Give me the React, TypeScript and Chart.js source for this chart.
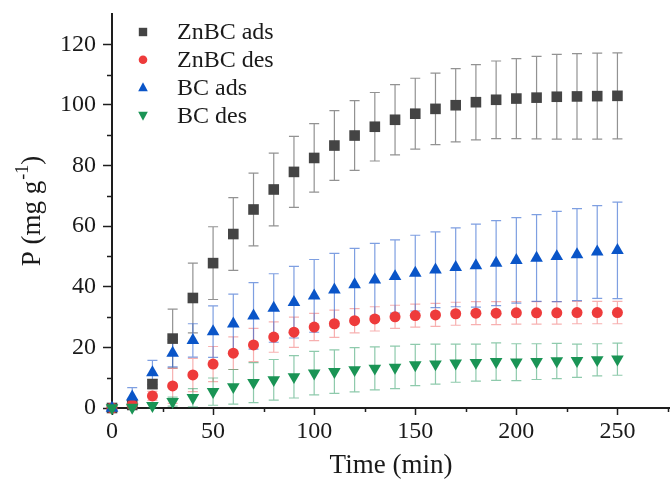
import React, { useEffect, useRef } from 'react';
import { Chart, registerables } from 'chart.js';

Chart.register(...registerables);

// ---- data ----
const times = [0, 10, 20, 30, 40, 50, 60, 70, 80, 90, 100, 110, 120, 130, 140, 150, 160, 170, 180, 190, 200, 210, 220, 230, 240, 250];

const znbcAds = [0, 1.0, 7.9, 22.9, 36.3, 47.8, 57.4, 65.5, 72.1, 77.9, 82.5, 86.6, 89.9, 92.8, 95.1, 97.1, 98.7, 99.9, 100.9, 101.7, 102.1, 102.4, 102.7, 102.8, 102.9, 103.0];
const znbcAdsErr = [0, 0.5, 1.5, 9.7, 11.5, 12.0, 12.0, 12.0, 12.0, 11.7, 11.3, 11.5, 11.5, 11.3, 11.6, 11.7, 11.8, 12.1, 12.4, 12.8, 13.2, 13.6, 14.0, 14.1, 14.2, 14.2];

const znbcDes = [0, 1.0, 4.0, 7.3, 10.9, 14.5, 18.1, 20.8, 23.4, 25.0, 26.7, 27.8, 28.8, 29.4, 30.1, 30.5, 30.7, 31.1, 31.3, 31.3, 31.4, 31.4, 31.4, 31.5, 31.5, 31.5];
const znbcDesErr = [0, 0.5, 1.5, 5.8, 5.5, 5.8, 5.4, 5.5, 5.0, 5.0, 4.5, 4.5, 4.0, 4.0, 3.8, 3.8, 3.8, 3.8, 3.8, 3.8, 3.7, 3.7, 3.7, 3.7, 3.7, 3.7];

const bcAds = [0, 3.7, 11.7, 18.1, 22.3, 25.2, 27.8, 30.4, 33.0, 34.9, 37.0, 39.0, 40.7, 42.3, 43.4, 44.5, 45.6, 46.4, 47.0, 47.8, 48.7, 49.5, 50.0, 50.6, 51.5, 52.0];
const bcAdsErr = [0, 3.0, 4.0, 4.5, 5.5, 8.5, 9.8, 11.0, 11.3, 11.8, 12.0, 12.0, 12.0, 12.0, 12.1, 12.5, 12.5, 13.0, 13.7, 14.0, 14.1, 14.3, 14.9, 15.2, 15.3, 15.9];

const bcDes = [0, 0.2, 0.8, 2.1, 3.4, 5.4, 7.0, 8.4, 9.3, 10.3, 11.5, 12.0, 12.6, 13.1, 13.4, 14.2, 14.5, 14.8, 15.0, 15.3, 15.1, 15.3, 15.5, 15.6, 15.9, 16.1];
const bcDesErr = [0, 0.3, 0.8, 1.5, 3.0, 4.5, 5.7, 6.6, 6.7, 7.0, 7.2, 7.2, 7.3, 7.1, 7.0, 6.8, 6.6, 6.3, 6.1, 6.2, 6.1, 5.9, 5.8, 5.5, 5.3, 5.3];

const seriesNames = ['ZnBC ads', 'ZnBC des', 'BC ads', 'BC des'];
const xTicks = [0, 50, 100, 150, 200, 250];
const xMinorTicks = [25, 75, 125, 175, 225, 275];
const yTicks = [0, 20, 40, 60, 80, 100, 120];
const yMinorTicks = [10, 30, 50, 70, 90, 110];
const xTitle = 'Time (min)';
const yTitleMain = 'P (mg g';
const yTitleSup = '-1';
const yTitleEnd = ')';

// ---- styles ----
const FONT = "'Liberation Serif', 'Times New Roman', Times, serif";
const AXIS = '#1e1e1e';
const markerColors = ['#444444', '#EE3B3B', '#0A55C8', '#1A9455'];
const errColors = ['rgba(110,110,110,0.75)', 'rgba(238,80,80,0.45)', 'rgba(40,95,205,0.6)', 'rgba(30,150,90,0.5)'];
const values = [znbcAds, znbcDes, bcAds, bcDes];
const errors = [znbcAdsErr, znbcDesErr, bcAdsErr, bcDesErr];
const pointStyles = ['rect', 'circle', 'triangle', 'triangle'];
const rotations = [0, 0, 0, 180];
const radii = [7.5, 5.5, 7.3, 7.3];

function drawMarker(ctx: CanvasRenderingContext2D, style: number, x: number, y: number, s: number) {
  ctx.beginPath();
  if (style === 0) {
    ctx.rect(x - s, y - s, 2 * s, 2 * s);
  } else if (style === 1) {
    ctx.arc(x, y, s, 0, Math.PI * 2);
  } else if (style === 2) {
    ctx.moveTo(x, y - s * 1.1);
    ctx.lineTo(x + s, y + s * 0.75);
    ctx.lineTo(x - s, y + s * 0.75);
    ctx.closePath();
  } else {
    ctx.moveTo(x, y + s * 1.1);
    ctx.lineTo(x + s, y - s * 0.75);
    ctx.lineTo(x - s, y - s * 0.75);
    ctx.closePath();
  }
  ctx.fill();
}

const errorBarPlugin = {
  id: 'errorBars',
  beforeDatasetsDraw(chart: any) {
    const { ctx, scales } = chart;
    const xs = scales.x;
    const ys = scales.y;
    ctx.save();
    ctx.lineWidth = 1.2;
    for (let s = 0; s < values.length; s++) {
      ctx.strokeStyle = errColors[s];
      for (let i = 0; i < times.length; i++) {
        const e = errors[s][i];
        if (!e) continue;
        const px = xs.getPixelForValue(times[i]);
        const top = ys.getPixelForValue(values[s][i] + e);
        const bot = ys.getPixelForValue(Math.max(values[s][i] - e, -1));
        ctx.beginPath();
        ctx.moveTo(px, top);
        ctx.lineTo(px, bot);
        ctx.moveTo(px - 5, top);
        ctx.lineTo(px + 5, top);
        ctx.moveTo(px - 5, bot);
        ctx.lineTo(px + 5, bot);
        ctx.stroke();
      }
    }
    ctx.restore();
  },
};

const decorPlugin = {
  id: 'decor',
  afterDraw(chart: any) {
    const { ctx, chartArea, scales } = chart;
    const xs = scales.x;
    const ys = scales.y;
    ctx.save();
    // minor ticks
    ctx.strokeStyle = AXIS;
    ctx.lineWidth = 1.5;
    ctx.beginPath();
    for (const v of xMinorTicks) {
      const px = Math.round(xs.getPixelForValue(v)) + 0.5;
      ctx.moveTo(px, chartArea.bottom);
      ctx.lineTo(px, chartArea.bottom + 4);
    }
    for (const v of yMinorTicks) {
      const py = Math.round(ys.getPixelForValue(v)) + 0.5;
      ctx.moveTo(chartArea.left, py);
      ctx.lineTo(chartArea.left - 5, py);
    }
    ctx.stroke();

    // legend
    ctx.font = `24px ${FONT}`;
    ctx.textBaseline = 'middle';
    ctx.textAlign = 'left';
    for (let i = 0; i < seriesNames.length; i++) {
      const ly = chartArea.top + 18 + i * 27.8;
      const lx = chartArea.left + 31;
      ctx.fillStyle = markerColors[i];
      drawMarker(ctx, i, lx, ly, i === 0 ? 4.2 : i === 1 ? 4.3 : 4.8);
      ctx.fillStyle = '#1a1a1a';
      ctx.fillText(seriesNames[i], chartArea.left + 65, ly + 1);
    }

    // x title
    ctx.font = `27px ${FONT}`;
    ctx.textAlign = 'center';
    ctx.textBaseline = 'middle';
    ctx.fillStyle = '#1a1a1a';
    ctx.fillText(xTitle, (chartArea.left + chartArea.right) / 2, 466);

    // y title (rotated, with superscript)
    ctx.translate(33, (chartArea.top + chartArea.bottom) / 2);
    ctx.rotate(-Math.PI / 2);
    ctx.textAlign = 'left';
    ctx.textBaseline = 'middle';
    ctx.font = `27px ${FONT}`;
    const w1 = ctx.measureText(yTitleMain).width;
    const w3 = ctx.measureText(yTitleEnd).width;
    ctx.font = `18px ${FONT}`;
    const w2 = ctx.measureText(yTitleSup).width;
    const total = w1 + w2 + w3 + 1;
    let cx = -total / 2;
    ctx.font = `27px ${FONT}`;
    ctx.fillText(yTitleMain, cx, 0);
    cx += w1 + 1;
    ctx.font = `18px ${FONT}`;
    ctx.fillText(yTitleSup, cx, -10);
    cx += w2;
    ctx.font = `27px ${FONT}`;
    ctx.fillText(yTitleEnd, cx, 0);
    ctx.restore();
  },
};

export default function App() {
  const ref = useRef<HTMLCanvasElement | null>(null);

  useEffect(() => {
    if (!ref.current) return;
    const datasets = values.map((vals, s) => ({
      label: seriesNames[s],
      data: times.map((t, i) => ({ x: t, y: vals[i] })),
      showLine: false,
      pointStyle: pointStyles[s] as any,
      rotation: rotations[s],
      pointRadius: radii[s],
      pointHoverRadius: radii[s],
      pointBackgroundColor: markerColors[s],
      pointBorderColor: markerColors[s],
      pointBorderWidth: 0,
      backgroundColor: markerColors[s],
      borderColor: markerColors[s],
      clip: false as any,
      order: 4 - s,
    }));

    const tickFont = { family: FONT, size: 24 };

    const chart = new Chart(ref.current, {
      type: 'line',
      data: { datasets },
      plugins: [errorBarPlugin, decorPlugin],
      options: {
        animation: false,
        responsive: false,
        events: [],
        layout: { autoPadding: false, padding: { top: 14, right: 0, left: 0, bottom: 0 } },
        plugins: {
          legend: { display: false },
          tooltip: { enabled: false },
        },
        scales: {
          x: {
            type: 'linear',
            min: 0,
            max: 276,
            afterBuildTicks: (axis: any) => {
              axis.ticks = xTicks.map((v) => ({ value: v }));
            },
            afterFit: (scale: any) => {
              scale.height = 73;
              scale.paddingLeft = 0;
              scale.paddingRight = 0;
            },
            ticks: { font: tickFont, color: '#1a1a1a', padding: 2, maxRotation: 0, autoSkip: false },
            grid: { drawOnChartArea: false, tickLength: 7, tickWidth: 1.5, tickColor: AXIS },
            border: { color: AXIS, width: 2 },
          },
          y: {
            type: 'linear',
            min: 0,
            max: 130,
            afterBuildTicks: (axis: any) => {
              axis.ticks = yTicks.map((v) => ({ value: v }));
            },
            afterFit: (scale: any) => {
              scale.width = 112;
              scale.paddingTop = 0;
              scale.paddingBottom = 0;
            },
            ticks: { font: tickFont, color: '#1a1a1a', padding: 7, autoSkip: false },
            grid: { drawOnChartArea: false, tickLength: 9, tickWidth: 1.5, tickColor: AXIS },
            border: { color: AXIS, width: 2 },
          },
        },
      } as any,
    });
    return () => chart.destroy();
  }, []);

  return (
    <div style={{ position: 'fixed', left: 0, top: 0, width: 670, height: 481, background: '#fff' }}>
      <canvas ref={ref} width={670} height={481} style={{ display: 'block', width: 670, height: 481 }} />
    </div>
  );
}
